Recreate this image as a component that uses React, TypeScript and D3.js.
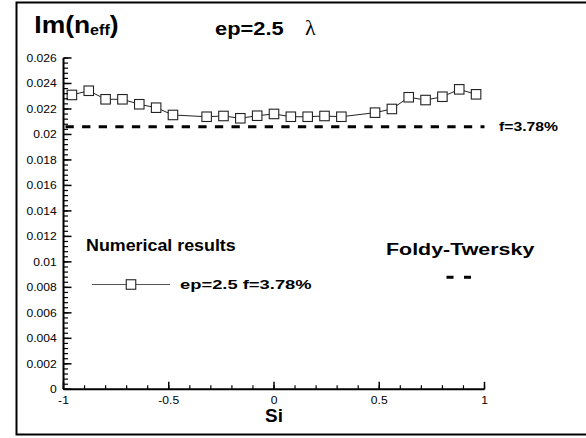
import React from "react";
import * as d3 from "d3";

const siValues = [-0.96, -0.88, -0.8, -0.72, -0.64, -0.56, -0.48, -0.32, -0.24, -0.16, -0.08, 0, 0.08, 0.16, 0.24, 0.32, 0.48, 0.56, 0.64, 0.72, 0.8, 0.88, 0.96];
const imNeff = [0.0231, 0.02343, 0.02276, 0.02276, 0.02237, 0.0221, 0.02153, 0.02139, 0.02145, 0.02127, 0.02147, 0.02161, 0.02139, 0.02139, 0.02145, 0.02139, 0.02171, 0.022, 0.02292, 0.0227, 0.02296, 0.02354, 0.02315];
const foldyValue = 0.0206;
const xTickValues = [-1, -0.5, 0, 0.5, 1];
const xTickLabels = ["-1", "-0.5", "0", "0.5", "1"];
const yTickValues = [0, 0.002, 0.004, 0.006, 0.008, 0.01, 0.012, 0.014, 0.016, 0.018, 0.02, 0.022, 0.024, 0.026];
const yTickLabels = ["0", "0.002", "0.004", "0.006", "0.008", "0.01", "0.012", "0.014", "0.016", "0.018", "0.02", "0.022", "0.024", "0.026"];

const FONT = "'Liberation Sans', Arial, Helvetica, sans-serif";

function T(props: { x: number; y: number; size: number; anchor?: string; bold?: boolean; sx?: number; children: React.ReactNode; family?: string }) {
  const { x, y, size, anchor = "start", bold = false, sx = 1, children, family = FONT } = props;
  return (
    <text
      transform={`translate(${x},${y}) scale(${sx},1)`}
      fontSize={size}
      fontFamily={family}
      fontWeight={bold ? "bold" : "normal"}
      textAnchor={anchor}
      fill="#000"
    >
      {children}
    </text>
  );
}

export default function App() {
  const W = 586, H = 438;
  const x = d3.scaleLinear().domain([-1, 1]).range([63.5, 484.5]);
  const y = d3.scaleLinear().domain([0, 0.026]).range([389.3, 58]);
  const xMinor = d3.range(-1, 1.0001, 0.1);
  const yMinor = d3.range(0, 0.02601, 0.0004);
  const line = d3.line<number>().x((_, i) => x(siValues[i])).y((d) => y(d));
  const sq = 9.5;

  return (
    <svg width={W} height={H} style={{ position: "absolute", left: 0, top: 0 }}>
      <rect x={0} y={0} width={W} height={H} fill="#fff" />
      <rect x={16.5} y={2.5} width={600} height={432} fill="none" stroke="#000" strokeWidth={2} />

      {/* Foldy-Twersky dashed line */}
      <line x1={x(-1) + 2} x2={x(1)} y1={y(foldyValue)} y2={y(foldyValue)} stroke="#000" strokeWidth={3} strokeDasharray="8.3 8.3" />
      <T x={499} y={130.5} size={12.5} bold sx={1.26}>f=3.78%</T>

      {/* data */}
      <path d={line(imNeff) || ""} fill="none" stroke="#222" strokeWidth={1} />
      {imNeff.map((v, i) => (
        <rect key={i} x={x(siValues[i]) - sq / 2} y={y(v) - sq / 2} width={sq} height={sq} fill="#fff" stroke="#222" strokeWidth={1.1} />
      ))}

      {/* axes */}
      <line x1={x(-1)} x2={x(1)} y1={y(0)} y2={y(0)} stroke="#000" strokeWidth={2} />
      <line x1={x(-1)} x2={x(-1)} y1={y(0)} y2={y(0.026)} stroke="#000" strokeWidth={2} />
      {xMinor.map((v, i) => (
        <line key={"xm" + i} x1={x(v)} x2={x(v)} y1={y(0)} y2={y(0) - 4} stroke="#000" strokeWidth={1.2} />
      ))}
      {xTickValues.map((v, i) => (
        <g key={"xt" + i}>
          <line x1={x(v)} x2={x(v)} y1={y(0)} y2={y(0) - 7.5} stroke="#000" strokeWidth={1.5} />
          <T x={x(v)} y={403.5} size={11} anchor="middle" sx={1.1}>{xTickLabels[i]}</T>
        </g>
      ))}
      {yMinor.map((v, i) => (
        <line key={"ym" + i} x1={x(-1)} x2={x(-1) + 4.5} y1={y(v)} y2={y(v)} stroke="#000" strokeWidth={1.2} />
      ))}
      {yTickValues.map((v, i) => (
        <g key={"yt" + i}>
          <line x1={x(-1)} x2={x(-1) + 8} y1={y(v)} y2={y(v)} stroke="#000" strokeWidth={1.5} />
          <T x={56.7} y={y(v) + 4} size={11} anchor="end" sx={1.1}>{yTickLabels[i]}</T>
        </g>
      ))}
      <T x={274} y={421.5} size={18} bold anchor="middle" sx={1.05}>Si</T>

      {/* title */}
      <text transform="translate(34.3,33.3) scale(1.15,1)" fontFamily={FONT} fontWeight="bold" fontSize={23}>
        Im(n<tspan fontSize={14} dy={2}>eff</tspan><tspan dy={-2}>)</tspan>
      </text>
      <T x={215} y={35} size={17.5} bold sx={1.25}>ep=2.5</T>
      <T x={305} y={35} size={22} family="'Liberation Serif', 'Times New Roman', serif">λ</T>

      {/* legend */}
      <T x={86} y={251} size={17} bold sx={1.05}>Numerical results</T>
      <line x1={92} x2={170} y1={284.5} y2={284.5} stroke="#555" strokeWidth={1.2} />
      <rect x={131 - sq / 2} y={284.5 - sq / 2} width={sq} height={sq} fill="#fff" stroke="#222" strokeWidth={1.1} />
      <T x={180} y={289} size={13.5} bold sx={1.36}>ep=2.5 f=3.78%</T>

      <T x={386} y={255} size={17} bold sx={1.26}>Foldy-Twersky</T>
      <line x1={446.5} x2={471} y1={277.3} y2={277.3} stroke="#000" strokeWidth={3} strokeDasharray="7 10.5" />
    </svg>
  );
}
